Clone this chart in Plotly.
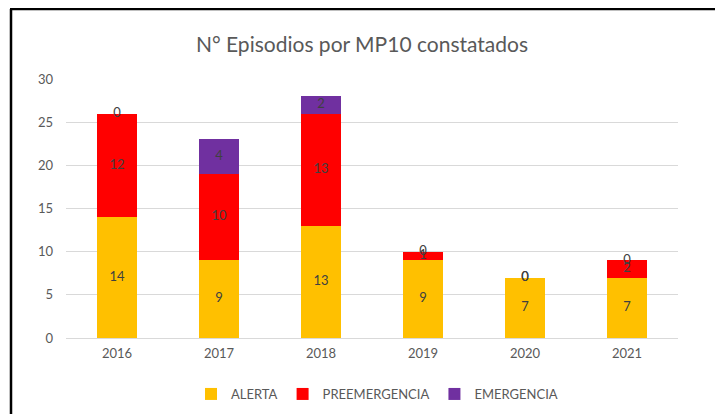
import plotly.graph_objects as go

years = ["2016", "2017", "2018", "2019", "2020", "2021"]
alerta = [14, 9, 13, 9, 7, 7]
preemergencia = [12, 10, 13, 1, 0, 2]
emergencia = [0, 4, 2, 0, 0, 0]
series_names = ["ALERTA", "PREEMERGENCIA", "EMERGENCIA"]
series_colors = ["#FFC000", "#FF0000", "#7030A0"]
y_ticks = [0, 5, 10, 15, 20, 25, 30]

FONT = "Lato, Open Sans, sans-serif"
GRAY = "#595959"

fig = go.Figure()
series = [alerta, preemergencia, emergencia]
base = [0] * len(years)
lab_x, lab_y, lab_t = [], [], []
for name, vals, col in zip(series_names, series, series_colors):
    fig.add_trace(go.Bar(x=years, y=vals, name=name, marker=dict(color=col, line=dict(width=0)),
                         width=0.4))
    for i, v in enumerate(vals):
        lab_x.append(years[i])
        lab_y.append(base[i] + v / 2)
        lab_t.append(str(v))
        base[i] += v

fig.add_trace(go.Scatter(x=lab_x, y=lab_y, text=lab_t, mode="text", showlegend=False,
                         textfont=dict(family=FONT, size=13, color="#404040"), hoverinfo="skip"))

# page is offset by the default 8px body margin
OFF = 8
WID, HEI = 723, 414
L = 66 - OFF
T = 79 - OFF
R = WID - (678 - OFF)
B = HEI - (338 - OFF)
W, H = WID - L - R, HEI - T - B
def px(x):
    return (x - OFF - L) / W
def py(y):
    return (HEI - B - (y - OFF)) / H

# frame (left and top edges visible)
fig.add_shape(type="line", xref="paper", yref="paper", x0=px(11), x1=px(11), y0=py(9), y1=py(430),
              line=dict(color="black", width=2.5))
fig.add_shape(type="line", xref="paper", yref="paper", x0=px(10), x1=px(740), y0=py(9), y1=py(9),
              line=dict(color="black", width=2.5))

fig.update_layout(
    barmode="stack",
    width=WID, height=HEI,
    margin=dict(l=L, r=R, t=T, b=B, autoexpand=False),
    paper_bgcolor="white", plot_bgcolor="white",
    title=dict(text="N° Episodios por MP10 constatados", x=(362 - OFF) / WID, xanchor="center",
               y=1 - (45 - OFF) / HEI, yanchor="middle", xref="container", yref="container",
               font=dict(family=FONT, size=21, color=GRAY)),
    font=dict(family=FONT, size=13, color=GRAY),
    legend=dict(orientation="h", x=(377 - OFF) / WID, xanchor="center", xref="container",
                y=1 - (394 - OFF) / HEI, yanchor="middle", yref="container",
                font=dict(family=FONT, size=13, color=GRAY), traceorder="normal",
                itemwidth=30, tracegroupgap=0),
    xaxis=dict(showgrid=False, showline=True, linecolor="#D9D9D9", ticks="", ticklabelstandoff=3,
               automargin=False, tickfont=dict(size=13, color=GRAY)),
    yaxis=dict(range=[0, 30], tickvals=y_ticks, showgrid=True, gridcolor="#D9D9D9", zeroline=False,
               showline=False, ticks="", ticklabelstandoff=12, automargin=False,
               tickfont=dict(size=13, color=GRAY)),
    showlegend=True,
)

fig.write_html("out.html")
